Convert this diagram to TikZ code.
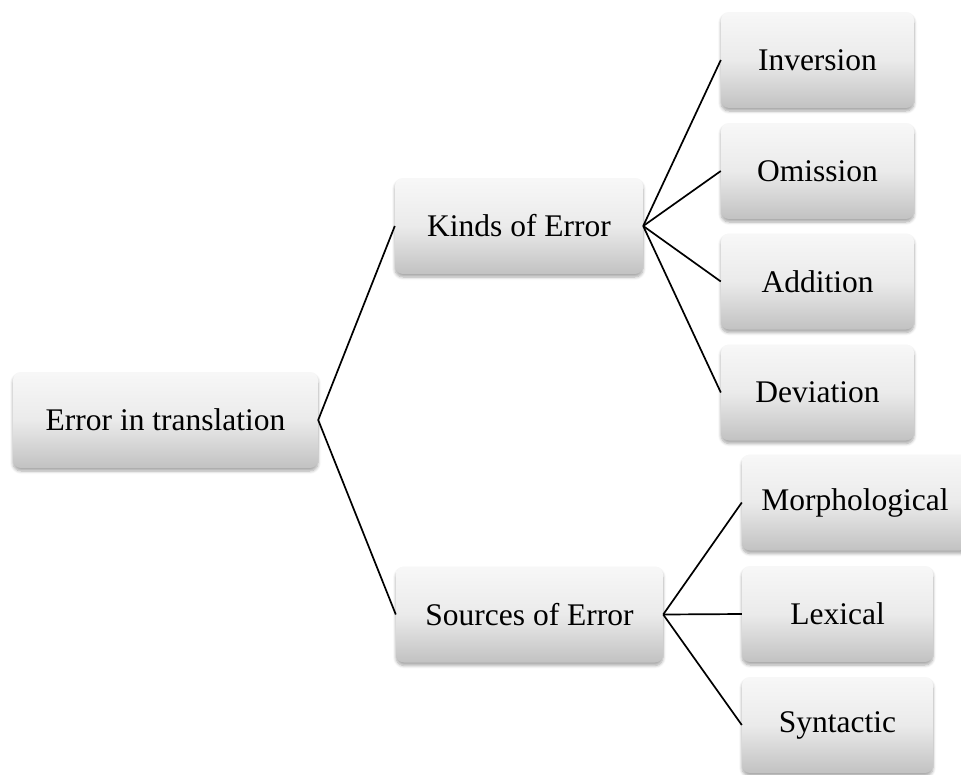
\documentclass[tikz,border=0pt]{standalone}
\usepackage{fontspec}
\setmainfont{Liberation Serif}
\usetikzlibrary{shadows,shadows.blur}
\begin{document}
\begin{tikzpicture}[x=1pt,y=-1pt,
  box/.style={rounded corners=8pt, top color=white!97!black, bottom color=white!76!black,
    middle color=white!92!black, draw=none, inner sep=0pt,
    minimum height=96pt, font=\fontsize{31.5}{36}\selectfont,
    blur shadow={shadow xshift=0pt, shadow yshift=-3pt, shadow blur steps=6, shadow blur radius=3pt, shadow opacity=35}},
  link/.style={line width=1.7pt, black}]
\useasboundingbox (0,0) rectangle (961,774);
\node[box, minimum width=305pt] (root) at (165.5,420) {Error in translation};
\node[box, minimum width=248pt] (kinds) at (519,226) {Kinds of Error};
\node[box, minimum width=267pt] (sources) at (529.5,614.5) {Sources of Error};
\node[box, minimum width=193pt] (inv) at (817.5,60) {Inversion};
\node[box, minimum width=193pt] (omi) at (817.5,171) {Omission};
\node[box, minimum width=193pt] (add) at (817.5,281.5) {Addition};
\node[box, minimum width=193pt] (dev) at (817.5,392.5) {Deviation};
\node[box, minimum width=226pt] (mor) at (855,502.5) {Morphological};
\node[box, minimum width=191pt] (lex) at (837.5,614) {Lexical};
\node[box, minimum width=191pt] (syn) at (837.5,725) {Syntactic};
\draw[link] (kinds.west) -- (root.east) -- (sources.west);
\foreach \t in {inv,omi,add,dev} \draw[link] (kinds.east) -- (\t.west);
\foreach \t in {mor,lex,syn} \draw[link] (sources.east) -- (\t.west);
\end{tikzpicture}
\end{document}
